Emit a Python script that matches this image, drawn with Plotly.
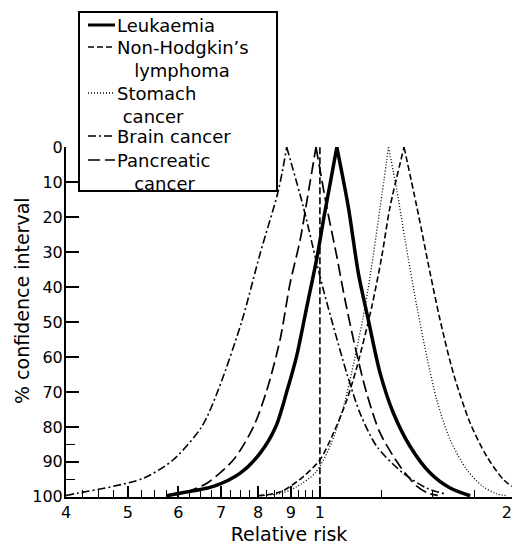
import numpy as np
import plotly.graph_objects as go

# ---------------- data ----------------
x_tick_vals = [0.4, 0.5, 0.6, 0.7, 0.8, 0.9, 1.0, 2.0]
x_tick_text = ["4", "5", "6", "7", "8", "9", "1", "2"]
y_tick_vals = [0, 10, 20, 30, 40, 50, 60, 70, 80, 90, 100]
y_minor_vals = [85, 95]

# each curve: from bottom-left, up to the peak (0 %), down to bottom-right
leuk_rr = [0.575, 0.597, 0.681, 0.750, 0.806, 0.853, 0.889, 0.919, 0.954, 0.990, 1.015,
           1.063,
           1.108, 1.149, 1.191, 1.243, 1.304, 1.385, 1.489, 1.60, 1.72]
leuk_ci = [99.7, 99.1, 97.0, 93.2, 87.5, 79.9, 69.4, 59.9, 45.6, 31.3, 19.9,
           0,
           17.1, 36.1, 49.4, 64.7, 76.1, 85.6, 93.2, 97.5, 99.7]

nhl_rr = [0.80, 0.87, 0.942, 1.0, 1.05, 1.102, 1.143, 1.206, 1.250, 1.288,
          1.355,
          1.419, 1.489, 1.543, 1.619, 1.72, 1.827, 1.94, 2.0]
nhl_ci = [99.7, 98.5, 94.2, 89.4, 81.8, 72.3, 62.8, 45.6, 31.3, 17.1,
          0,
          17.1, 36.1, 49.4, 64.7, 78.9, 88.5, 95.1, 97.0]

stomach_rr = [0.80, 0.87, 0.920, 0.983, 1.037, 1.089, 1.1355, 1.177, 1.205, 1.243,
              1.281,
              1.32, 1.36, 1.419, 1.471, 1.525, 1.60, 1.70, 1.80, 1.89, 1.97]
stomach_ci = [99.7, 99.0, 97.1, 93.2, 85.6, 74.2, 59.9, 45.6, 34.2, 17.1,
              0,
              12.3, 26.6, 45.6, 59.9, 72.3, 83.7, 92.3, 97.0, 99.1, 99.7]

brain_rr = [0.40, 0.4157, 0.4746, 0.529, 0.589, 0.653, 0.693, 0.754, 0.806, 0.861,
            0.887,
            0.942, 0.983, 1.013, 1.05, 1.102, 1.156, 1.228, 1.35, 1.47, 1.58]
brain_ci = [99.6, 99.0, 97.0, 94.7, 89.4, 79.9, 69.4, 49.9, 30.4, 12.3,
            0,
            17.1, 31.3, 40.9, 51.3, 64.7, 76.1, 85.6, 93.2, 97.5, 99.3]

panc_rr = [0.58, 0.618, 0.665, 0.732, 0.787, 0.826, 0.866, 0.898, 0.931, 0.961,
           0.986,
           1.025, 1.063, 1.095, 1.1355, 1.184, 1.243, 1.336, 1.42, 1.48, 1.53]
panc_ci = [99.5, 98.5, 96.1, 89.4, 79.9, 69.4, 55.1, 38.9, 26.6, 12.0,
           0,
           17.1, 31.3, 43.7, 57.1, 70.4, 81.8, 91.3, 97.0, 99.0, 99.6]

null_rr = [1.0, 1.0]
null_ci = [0, 100]

legend_labels = [["Leukaemia"], ["Non-Hodgkin\u2019s", "lymphoma"], ["Stomach", "cancer"],
                 ["Brain cancer"], ["Pancreatic", "cancer"]]

# ---------------- styles ----------------
styles = [
    dict(width=3.5, dash="solid"),
    dict(width=1.6, dash="6px,3px"),
    dict(width=1.3, dash="1px,2px"),
    dict(width=1.6, dash="8px,3px,2px,3px"),
    dict(width=1.7, dash="12px,5px"),
]
series = [(leuk_rr, leuk_ci), (nhl_rr, nhl_ci), (stomach_rr, stomach_ci),
          (brain_rr, brain_ci), (panc_rr, panc_ci)]

fig = go.Figure()

for (rr, ci), st, lab in zip(series, styles, legend_labels):
    k = int(np.argmin(ci))
    for xs, ys in ((rr[:k + 1], ci[:k + 1]), (rr[k:], ci[k:])):
        fig.add_trace(go.Scatter(
            x=xs, y=ys, mode="lines", name=" ".join(lab),
            line=dict(color="black", shape="spline", smoothing=0.8, **st),
            showlegend=False, hoverinfo="skip"))

# null line drawn on the overlaid (minor-tick) axes, which share the same ranges
fig.add_trace(go.Scatter(x=null_rr, y=null_ci, mode="lines", showlegend=False,
                         xaxis="x2", yaxis="y2",
                         line=dict(color="black", width=1.6, dash="7px,3px"),
                         hoverinfo="skip"))

# ---------------- layout ----------------
L, R, T, B = 66, 512, 147, 497
W, H = 514, 545


def px(x):
    return (x - L) / (R - L)


def py(y):
    return (B - y) / (B - T)


minor_x = [round(0.4 + 0.025 * i, 3) for i in range(25)]
minor_x = [v for v in minor_x if abs(v * 10 - round(v * 10)) > 1e-6] + [1.25, 1.5, 1.75]

# the last major label ("2") sits at the very right edge: it is drawn by the overlay
# axis with a small shift so that it is not cut off
main_text = x_tick_text[:-1] + [""]
overlay_vals = minor_x + [x_tick_vals[-1]]
overlay_text = [""] * len(minor_x) + [x_tick_text[-1]]

font_family = "DejaVu Sans"
x_range = [np.log10(0.4) - 1e-4, np.log10(2.0) + 1e-4]
y_range = [100.05, -0.05]

fig.update_layout(
    width=W, height=H,
    margin=dict(l=L, r=W - R, t=T, b=H - B, autoexpand=False),
    paper_bgcolor="white", plot_bgcolor="white",
    font=dict(family=font_family, color="black", size=16),
    showlegend=False,
    xaxis=dict(
        type="log", range=x_range, automargin=False,
        tickmode="array", tickvals=x_tick_vals, ticktext=main_text,
        ticks="inside", ticklen=11, tickwidth=1.6, tickcolor="black",
        showline=True, linewidth=2, linecolor="black",
        showgrid=False, zeroline=False, ticklabeloverflow="allow",
        tickfont=dict(size=16),
        title=dict(text="Relative risk", font=dict(size=19), standoff=6),
    ),
    xaxis2=dict(
        type="log", range=x_range, overlaying="x", anchor="y", side="bottom",
        automargin=False,
        tickmode="array", tickvals=overlay_vals, ticktext=overlay_text,
        showticklabels=True, ticklabelshift=-5, ticklabelstandoff=4,
        ticklabeloverflow="allow",
        tickfont=dict(size=16),
        ticks="inside", ticklen=7, tickwidth=1.3, tickcolor="black",
        showline=False, showgrid=False, zeroline=False,
    ),
    yaxis=dict(
        range=y_range, tickmode="array", tickvals=y_tick_vals, automargin=False,
        ticks="inside", ticklen=13, tickwidth=1.6, tickcolor="black",
        showline=True, linewidth=2, linecolor="black",
        showgrid=False, zeroline=False,
        tickfont=dict(size=16), ticklabelstandoff=-2,
    ),
    yaxis2=dict(
        range=y_range, overlaying="y", anchor="x", side="left", automargin=False,
        tickmode="array", tickvals=y_minor_vals, showticklabels=False,
        ticks="inside", ticklen=9, tickwidth=1.3, tickcolor="black",
        showline=False, showgrid=False, zeroline=False,
    ),
)

# ---------------- hand-drawn legend box and y title ----------------
shapes = [dict(type="rect", xref="paper", yref="paper",
               x0=px(79), x1=px(277), y0=py(191), y1=py(12),
               line=dict(color="black", width=2), fillcolor="white", layer="above")]
annotations = [dict(text="% confidence interval", xref="paper", yref="paper",
                    x=px(22), y=py(301), textangle=-90, xanchor="center", yanchor="middle",
                    showarrow=False, font=dict(size=19, family=font_family))]

first_line_y = [25, 47, 93, 136, 160]
indents = [0, 3, 1, 0, 3]
for lab, st, yl, ind in zip(legend_labels, styles, first_line_y, indents):
    shapes.append(dict(type="line", xref="paper", yref="paper",
                       x0=px(88), x1=px(115), y0=py(yl), y1=py(yl),
                       line=dict(color="black", width=min(st["width"], 3), dash=st["dash"]),
                       layer="above"))
    text = lab[0]
    if len(lab) > 1:
        text += "<br>" + "\u00a0" * ind + lab[1]
    annotations.append(dict(text=text, xref="paper", yref="paper", align="left",
                            x=px(115), y=py(yl - 12), xanchor="left", yanchor="top",
                            showarrow=False, font=dict(size=18, family=font_family)))

fig.update_layout(shapes=shapes, annotations=annotations)

fig.write_html("out.html")
